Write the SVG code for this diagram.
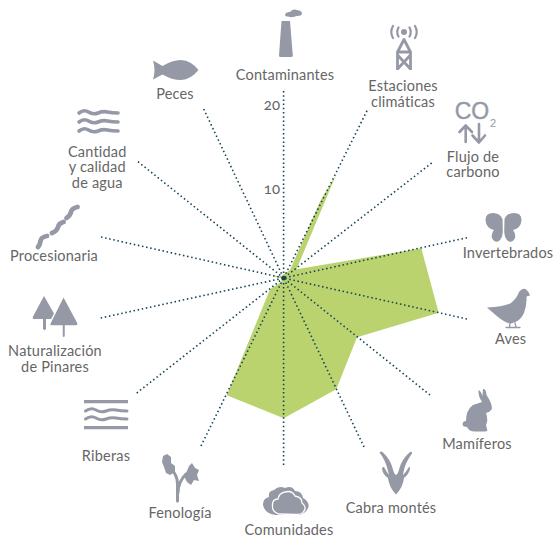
<svg xmlns="http://www.w3.org/2000/svg" width="555" height="540" viewBox="0 0 555 540">
<style>
text{font-family:"Lato","Noto Sans",sans-serif;font-size:14.5px;letter-spacing:.2px;fill:#666;text-anchor:middle}
.i{fill:#9599a6;stroke:none}
.s{fill:none;stroke:#9599a6;stroke-linecap:round;stroke-linejoin:round}
.d{stroke:#164356;stroke-width:1.600;stroke-dasharray:1.500 2.700;fill:none}
</style>
<rect width="555" height="540" fill="#fff"/>
<polygon id="area" fill="#bad36e" points="336,175 296.500,269.300 421.300,248.300 438.700,312.700 357,337.300 336.300,389.300 283.700,418.300 226.700,395.300 270,289.300 281.700,281.700 280.700,278 272,276 281,276 290,270 320.700,200"/>
<g id="connectors">
<path class="d" d="M283.600 91L283.600 278M203.700 109L283.600 278M138 161.700L283.600 278M101 237L283.600 278M100.700 318L283.600 278M136.700 393L283.600 278M201 446L283.600 278M283.600 465L283.600 278M364 447L283.600 278M430 395L283.600 278M467 319L283.600 278M467 237.700L283.600 278M431.700 163L283.600 278M367 110.700L283.600 278"/>
<circle cx="283.600" cy="278" r="1.800" fill="#164356"/>
</g>
<g id="scale"><text x="272" y="110" style="font-size:15px;font-variant-numeric:oldstyle-nums">20</text><text x="272" y="194" style="font-size:15px;font-variant-numeric:oldstyle-nums">10</text></g>
<g id="contaminantes">
<path class="i" d="M281.500 21H290L292.800 55.500Q292.800 57 291 57H280.500Q279 57 279 55.500Z"/>
<path class="i" d="M285 14.500Q286 11.500 290 12Q293 8.500 297 10Q302 10.500 302 13.500Q301.500 16 297 16Q292 18 288 16.500Q285 16.500 285 14.500Z"/>
<text x="285" y="80">Contaminantes</text>
</g>
<g id="peces">
<path class="i" d="M153 60.500L162.500 66Q172 60 181 60Q191 60.500 198.500 70Q191 79.500 181 80Q172 80 162.500 74.500L153 79.500Q156 70 153 60.500Z"/>
<text x="175" y="99">Peces</text>
</g>
<g id="estaciones">
<circle class="i" cx="404" cy="32" r="3"/>
<path class="s" stroke-width="2.200" d="M398.500 27.500Q396 32 398.500 36.500M409.500 27.500Q412 32 409.500 36.500M393 26Q389.500 32 393 38M415 26Q418.500 32 415 38"/>
<path class="s" stroke-width="2.800" style="stroke-linecap:butt" d="M397.500 70V52L404 39.500L410.500 52V70M397.500 52H410.500M397.500 55L410.500 69M410.500 55L397.500 69"/>
<text x="403" y="91">Estaciones</text><text x="403" y="106.700">climáticas</text>
</g>
<g id="flujo">
<text x="472" y="119" style="font-family:'Liberation Sans',sans-serif;font-size:23px;letter-spacing:0;fill:#9599a6;stroke:#9599a6;stroke-width:.4">CO</text>
<text x="493" y="127" style="font-family:'Liberation Sans',sans-serif;font-size:11px;letter-spacing:0;fill:#9599a6">2</text>
<path class="s" stroke-width="2.600" d="M465.700 142V126M459.500 132L465.700 125.500L472 132M479 124V142M472.500 135.500L479 142.500L485 135.500"/>
<text x="473" y="161.700">Flujo de</text><text x="473" y="176.700">carbono</text>
</g>
<g id="cantidad">
<path class="s" stroke-width="3.600" d="M79 113Q84 109 88.500 112T98 113T107.500 112T118 113M79 122Q84 118 88.500 121T98 122T107.500 121T118 122M79 131Q84 127 88.500 130T98 131T107.500 130T118 131"/>
<text x="97.300" y="156.700">Cantidad</text><text x="97.300" y="172">y calidad</text><text x="97.300" y="187.700">de agua</text>
</g>
<g id="procesionaria">
<path class="s" stroke-width="4.800" d="M77.500 207Q72 208 71 212T66.500 218M63.500 222Q59 223 58 227T52 233M47 236Q41 237 40.500 241T38 247"/>
<text x="54" y="260.700">Procesionaria</text>
</g>
<g id="naturalizacion">
<path class="i" d="M44 296L56 317Q56.500 319 54.500 319H46V329Q44.500 331 43 329V319H34Q32 319 33 316.500Z"/>
<path class="i" style="stroke:#fff;stroke-width:1.500" d="M63.500 296L78 323Q78.500 326 76 326H65.500V336.500Q63.500 339 62 336.500V326H51Q49 326 50 323Z"/>
<text x="55" y="356">Naturalización</text><text x="55" y="371.700">de Pinares</text>
</g>
<g id="riberas">
<path class="s" stroke-width="3.200" style="stroke-linecap:butt" d="M84 401.700H128M84 427.700H128"/>
<path class="s" stroke-width="3" d="M85.500 411Q91 407 96 410T106 411T116 410T127 411M85.500 419Q91 415 96 418T106 419T116 418T127 419"/>
<text x="106" y="461">Riberas</text>
</g>
<g id="fenologia">
<path class="s" stroke-width="3" d="M177.500 501V484Q177.500 476 172 470M178 493Q178 482 186 474"/>
<path class="i" d="M163 456L167 454L171 457L171 463L175 466L175 472L170 475L166 473L164 467L162 462Z"/>
<path class="i" d="M192 463L195 468L199 470L197 475L199 481L194 480L191 485L187 482L184 476L187 471L189 466Z"/>
<text x="180" y="518">Fenología</text>
</g>
<g id="comunidades">
<path class="i" d="M263 505Q263 498 269 497Q268 491 274 490Q279 485 285 488Q292 485 295 491Q302 491 303 498Q309 501 308.500 507Q306 514 298 515H276Q265 514 263 505Z"/>
<path class="i" style="stroke:#fff;stroke-width:1.300" d="M279 514Q272 512 272.500 506Q272 499 278 499Q279 493 285 492Q292 490 295 496Q302 497 302 503Q307 507 304 511Q302 514.500 297 514.500Z"/>
<text x="289" y="535">Comunidades</text>
</g>
<g id="cabra">
<path class="i" d="M379.500 452.500Q381 450.500 383 452.500Q390 459 392.500 468Q394 474 396 475Q398 474 399.500 468Q402 459 410 452Q412.500 451 412 453.500Q405 463 403.500 472L403 475Q406 472 409 467Q410.500 466.500 410 469Q409 474 404 478Q403 487 396 494.500Q389 487 388 478Q383 475 382 469Q382 466.500 384 467Q386 471 389 475L388 471Q386 461 379.500 452.500Z"/>
<text x="391" y="512.700">Cabra montés</text>
</g>
<g id="mamiferos">
<path class="i" d="M478.500 390Q481 391 482.500 396L483 389Q486 388 486.500 395Q492 403 492 409Q490 412 486 413Q488.500 420 486 425L487 429Q488 431.500 485 431.500H475Q469 431.500 467 427Q462.500 427 462.500 424Q463 421 466 421Q466 410 473 405Q479 403 482 402Q478 396 478.500 390Z"/>
<text x="477" y="449">Mamíferos</text>
</g>
<g id="aves">
<path class="i" d="M487 307.500Q503 307 511 303Q517 298 519 292Q522 288 525.500 289Q528.500 291 530 295.500L526.500 296.500Q527 305 524 313Q520 322 511 323.500Q505 323 498 317Q492 312 487 307.500Z"/>
<path class="s" stroke-width="1.300" d="M510 323L509.500 327M515 323L516 327M506 327.500H513M513 327.500H520"/>
<text x="510.700" y="344">Aves</text>
</g>
<g id="invertebrados">
<path class="i" d="M502.500 219Q500 213 493 213Q485.500 213 485.500 220Q486 228 494 230Q491 234 492 238Q494 242.500 498 241.500Q502 240 502.800 232Z"/>
<path class="i" d="M504.500 219Q507 213 514 213Q521.500 213 521.500 220Q521 228 513 230Q516 234 515 238Q513 242.500 509 241.500Q505 240 504.200 232Z"/>
<text x="508" y="257.700">Invertebrados</text>
</g>
</svg>
